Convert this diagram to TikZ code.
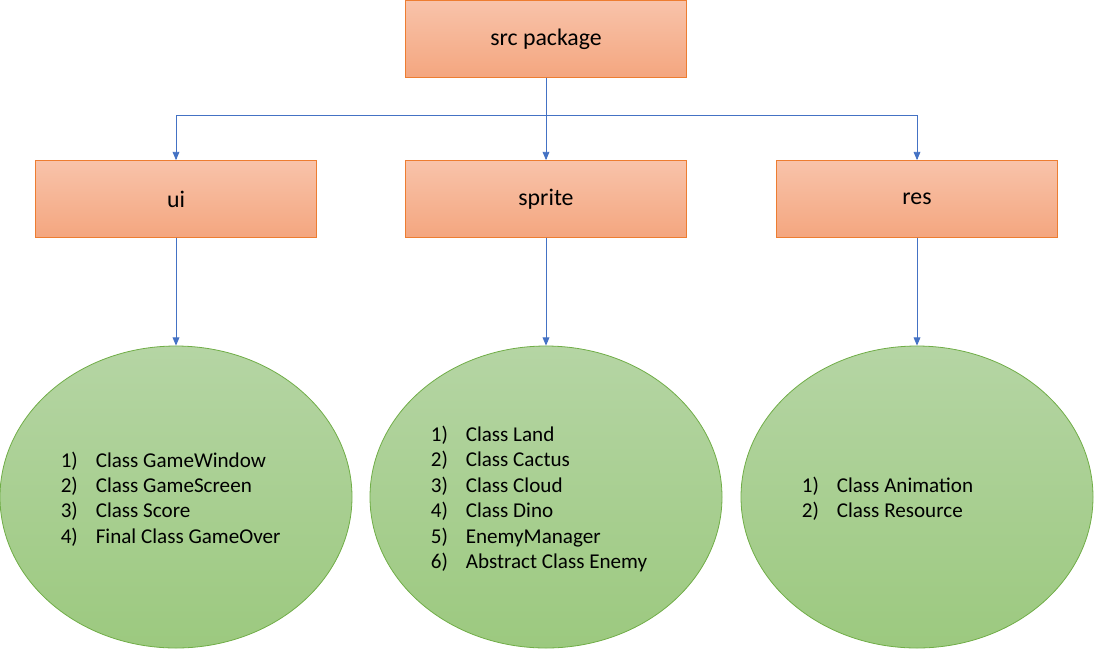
\documentclass[tikz,border=0pt]{standalone}
\usepackage{fontspec}
\setmainfont{Carlito}
\usetikzlibrary{arrows}
\usetikzlibrary{shapes.geometric}

\definecolor{pkgtop}{HTML}{F8C3AA}
\definecolor{pkgbot}{HTML}{F4A67F}
\definecolor{pkgline}{HTML}{ED7D31}
\definecolor{clstop}{HTML}{B5D5A4}
\definecolor{clsbot}{HTML}{9CC97F}
\definecolor{clsline}{HTML}{70AD47}
\definecolor{linkblue}{HTML}{4472C4}

\tikzset{
 pkg/.style={draw=pkgline, line width=0.8pt, top color=pkgtop, bottom color=pkgbot,
  minimum width=281pt, minimum height=77pt, inner sep=0pt, font=\fontsize{23.8}{28}\selectfont},
 cls/.style={ellipse, draw=clsline, line width=0.8pt, top color=clstop, bottom color=clsbot,
  minimum width=352pt, minimum height=302pt, inner sep=0pt},
 classlist/.style={anchor=west, inner sep=0pt, font=\fontsize{21.1}{25.4}\selectfont},
 link/.style={draw=linkblue, line width=0.9pt, ->, >=triangle 45},
}
\newcommand{\clsitem}[2]{\makebox[35pt][l]{#1)}#2}

\begin{document}
\begin{tikzpicture}[x=1pt,y=-1pt]
\useasboundingbox (0,0) rectangle (1094,649);
\node[pkg] (src) at (546,39) {src package};
\foreach \name/\x in {ui/176, sprite/546, res/917} {
 \node[pkg] (\name) at (\x,199) {\name};
 \node[cls] (\name-cls) at (\x,497) {};
}
\coordinate (bus) at (546,115);
\draw[link] (src) -- (sprite);
\draw[link] (bus) -| (ui);
\draw[link] (bus) -| (res);
\foreach \name in {ui,sprite,res} {
 \draw[link] (\name) -- (\name-cls);
}
% class lists, left aligned inside the ellipses
\node[classlist, align=left] (ui-list) at ([xshift=61pt,yshift=-2pt]ui-cls.west)
 {\clsitem{1}{Class GameWindow}\\ \clsitem{2}{Class GameScreen}\\ \clsitem{3}{Class Score}\\ \clsitem{4}{Final Class GameOver}};
\node[classlist, align=left] (sprite-list) at ([xshift=61pt,yshift=-2pt]sprite-cls.west)
 {\clsitem{1}{Class Land}\\ \clsitem{2}{Class Cactus}\\ \clsitem{3}{Class Cloud}\\ \clsitem{4}{Class Dino}\\ \clsitem{5}{EnemyManager}\\ \clsitem{6}{Abstract Class Enemy}};
\node[classlist, align=left] (res-list) at ([xshift=61pt,yshift=-2pt]res-cls.west)
 {\clsitem{1}{Class Animation}\\ \clsitem{2}{Class Resource}};
\end{tikzpicture}
\end{document}
